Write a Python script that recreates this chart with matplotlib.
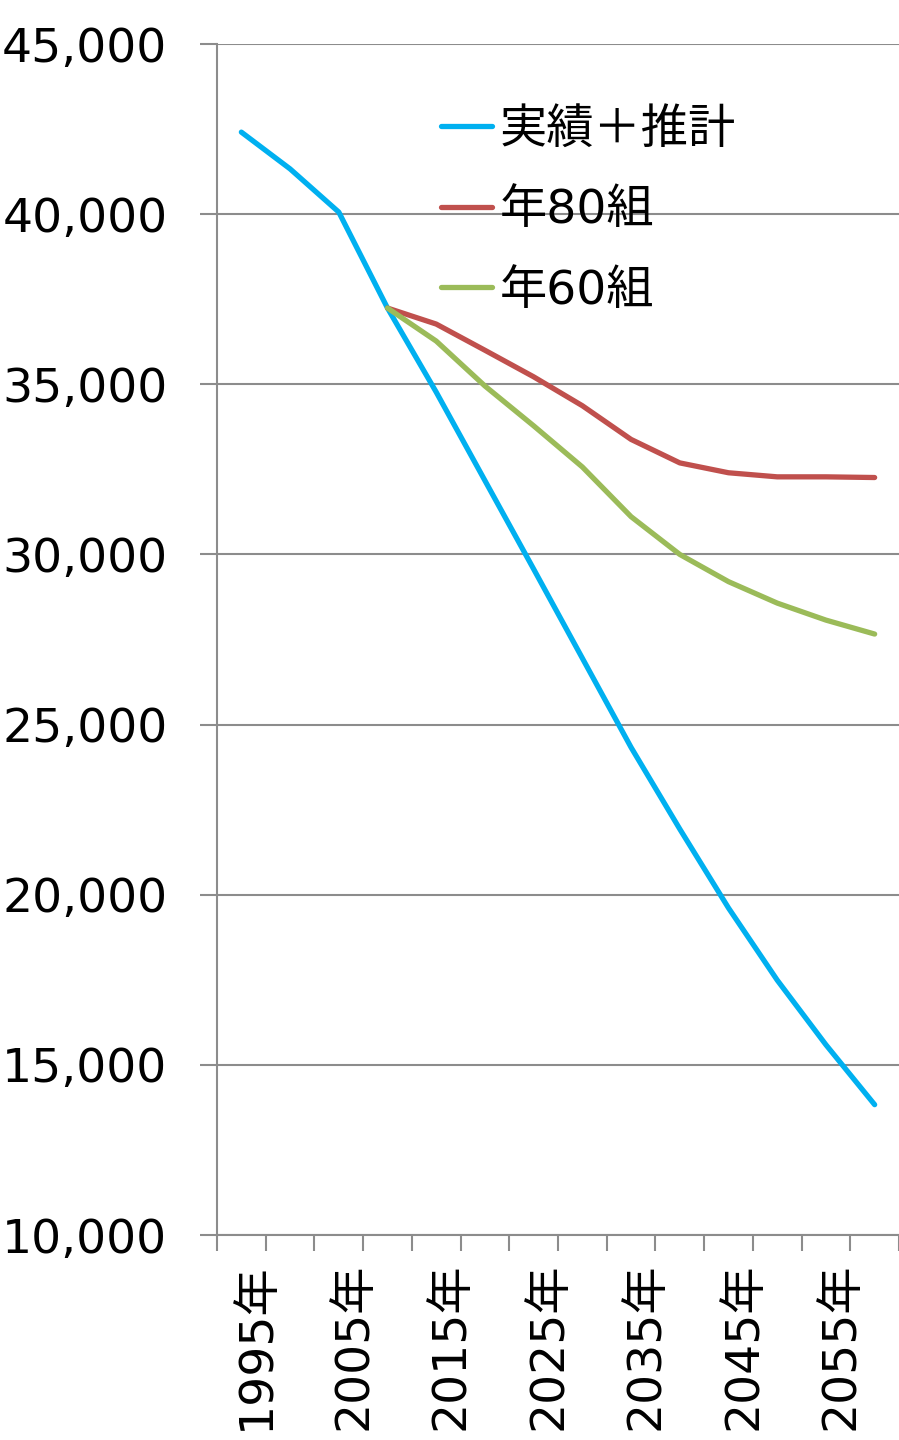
import numpy as np
import matplotlib
matplotlib.use("Agg")
import matplotlib.pyplot as plt
from matplotlib.transforms import ScaledTranslation
from matplotlib.ticker import FuncFormatter

plt.rcParams['font.family'] = ['DejaVu Sans', 'Noto Sans CJK JP']

# ---- data ----
years = ["1995年", "2000年", "2005年", "2010年", "2015年", "2020年", "2025年",
         "2030年", "2035年", "2040年", "2045年", "2050年", "2055年", "2060年"]
actual_est = [42410, 41330, 40060, 37240, 34770, 32170, 29570,
              26950, 24330, 21930, 19610, 17490, 15590, 13830]
nen80 = [np.nan, np.nan, np.nan, 37240, 36770, 36000, 35220,
         34370, 33380, 32690, 32400, 32280, 32280, 32260]
nen60 = [np.nan, np.nan, np.nan, 37240, 36270, 34950, 33780,
         32570, 31110, 30000, 29200, 28570, 28070, 27660]
series_names = ["実績＋推計", "年80組", "年60組"]
colors = ["#00B0F0", "#C0504D", "#9BBB59"]
y_ticks = [10000, 15000, 20000, 25000, 30000, 35000, 40000, 45000]

W, H = 899, 1440
fig = plt.figure(figsize=(W / 100, H / 100), dpi=100)
ax = fig.add_axes([217 / W, (H - 1235) / H, (W - 217) / W, (1235 - 44) / H])

x = np.arange(len(years))
for vals, name, c in zip([actual_est, nen80, nen60], series_names, colors):
    ax.plot(x, vals, color=c, lw=3.8, label=name,
            solid_capstyle='round', solid_joinstyle='round', zorder=3)

grid_c = "#8C8C8C"
ax.set_xlim(-0.5, len(years) - 0.5)
ax.set_ylim(10000, 45000)
ax.set_yticks(y_ticks)
ax.yaxis.set_major_formatter(FuncFormatter(lambda v, p: f"{int(v):,}"))
ax.grid(axis='y', color=grid_c, lw=1.5, zorder=1)
ax.tick_params(axis='y', direction='out', length=12.2, width=1.5, color=grid_c,
               labelsize=34, pad=23.5)

# x: category boundary ticks (major, unlabeled) and labels (minor)
ax.set_xticks(np.arange(-0.5, len(years), 1.0))
ax.set_xticklabels([])
ax.tick_params(axis='x', which='major', direction='out', length=11.5, width=1.5,
               color=grid_c)
lab_idx = list(range(0, len(years), 2))
ax.set_xticks(lab_idx, minor=True)
ax.set_xticklabels([years[i] for i in lab_idx], minor=True, rotation=90,
                   fontsize=34, va='top', ha='center')
ax.tick_params(axis='x', which='minor', length=0, pad=19.5)
off = ScaledTranslation(0.15, 0, fig.dpi_scale_trans)
for lab in ax.get_xticklabels(minor=True):
    lab.set_transform(lab.get_transform() + off)

for s in ['top', 'right']:
    ax.spines[s].set_visible(False)
ax.spines['left'].set_color(grid_c)
ax.spines['left'].set_linewidth(1.5)
ax.spines['bottom'].set_color(grid_c)
ax.spines['bottom'].set_linewidth(1.5)

leg = ax.legend(loc='upper left', bbox_to_anchor=(441 / W, 1 - 108 / H),
                bbox_transform=fig.transFigure, frameon=False, fontsize=34,
                handlelength=1.08, handletextpad=0.16, labelspacing=0.75,
                borderpad=0, borderaxespad=0)

fig.savefig("out.png", dpi=100)
